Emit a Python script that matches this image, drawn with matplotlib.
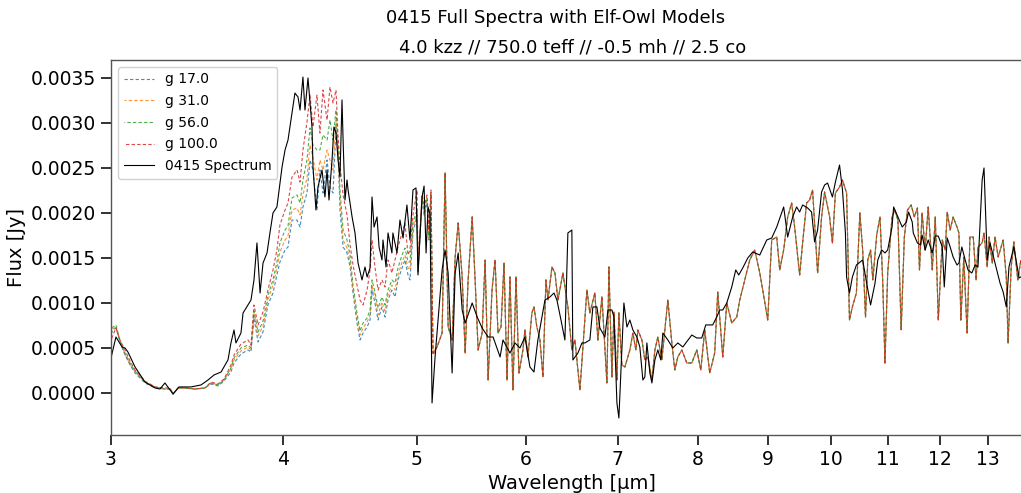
import numpy as np
import matplotlib
matplotlib.use("Agg")
import matplotlib.pyplot as plt
from matplotlib.ticker import FixedLocator, NullLocator, FormatStrFormatter

# ---------------- data ----------------
obs_wave = [3.000, 3.025, 3.056, 3.071, 3.086, 3.123, 3.175, 3.229, 3.256, 3.283,
            3.328, 3.361, 3.429, 3.487, 3.528, 3.564, 3.606, 3.648, 3.666, 3.685,
            3.697, 3.728, 3.741, 3.772, 3.791, 3.810, 3.829, 3.849, 3.868, 3.894,
            3.913, 3.933, 3.959, 3.979, 3.993, 4.013, 4.033, 4.060, 4.080, 4.101,
            4.115, 4.135, 4.149, 4.170, 4.198, 4.205, 4.226, 4.240, 4.269, 4.290,
            4.305, 4.319, 4.341, 4.355, 4.370, 4.385, 4.399, 4.414, 4.422, 4.436,
            4.451, 4.459, 4.489, 4.511, 4.534, 4.564, 4.587, 4.603, 4.626, 4.641,
            4.657, 4.680, 4.696, 4.719, 4.727, 4.751, 4.767, 4.798, 4.806, 4.839,
            4.863, 4.888, 4.920, 4.945, 4.970, 4.995, 5.012, 5.046, 5.063, 5.080,
            5.097, 5.114, 5.131, 5.157, 5.218, 5.244, 5.271, 5.306, 5.333, 5.360,
            5.396, 5.423, 5.487, 5.533, 5.579, 5.635, 5.682, 5.749, 5.777, 5.845,
            5.894, 5.943, 5.993, 6.043, 6.084, 6.124, 6.197, 6.249, 6.291, 6.322,
            6.365, 6.407, 6.439, 6.482, 6.493, 6.548, 6.592, 6.625, 6.680, 6.714,
            6.759, 6.793, 6.850, 6.885, 6.931, 6.954, 6.989, 7.012, 7.047, 7.071,
            7.107, 7.142, 7.178, 7.226, 7.262, 7.299, 7.323, 7.348, 7.385, 7.410,
            7.447, 7.484, 7.521, 7.547, 7.610, 7.674, 7.738, 7.803, 7.921, 7.987,
            8.054, 8.108, 8.203, 8.258, 8.300, 8.342, 8.398, 8.468, 8.525, 8.568,
            8.625, 8.698, 8.771, 8.874, 8.978, 9.053, 9.129, 9.236, 9.298, 9.376,
            9.438, 9.486, 9.533, 9.613, 9.677, 9.726, 9.775, 9.840, 9.890, 9.939,
            10.02, 10.07, 10.14, 10.19, 10.24, 10.26, 10.31, 10.36, 10.43, 10.54,
            10.61, 10.68, 10.76, 10.81, 10.88, 10.94, 10.99, 11.07, 11.10, 11.18,
            11.26, 11.34, 11.38, 11.45, 11.47, 11.55, 11.61, 11.64, 11.70, 11.76,
            11.84, 11.90, 11.96, 12.04, 12.08, 12.14, 12.20, 12.26, 12.34, 12.38,
            12.44, 12.51, 12.57, 12.65, 12.72, 12.78, 12.87, 12.91, 12.98, 13.04,
            13.15, 13.26, 13.33, 13.40, 13.46, 13.57, 13.69, 13.73]

obs_flux = [0.000389, 0.000622, 0.000511, 0.000500, 0.000456, 0.000289, 0.000122, 0.000056, 0.000044, 0.000111,
            -0.000011, 0.000067, 0.000067, 0.000089, 0.000144, 0.000200, 0.000233, 0.000367, 0.000556, 0.000700,
            0.000556, 0.000667, 0.000889, 0.000978, 0.001033, 0.001256, 0.001667, 0.001111, 0.001444, 0.001556,
            0.001778, 0.002000, 0.002067, 0.002333, 0.002511, 0.002700, 0.002811, 0.003111, 0.003333, 0.003289,
            0.003144, 0.003511, 0.003144, 0.003500, 0.002956, 0.002511, 0.002033, 0.002289, 0.002478, 0.002178,
            0.002478, 0.002144, 0.002589, 0.002956, 0.002889, 0.002589, 0.002400, 0.003256, 0.002811, 0.002144,
            0.002367, 0.002256, 0.001956, 0.001778, 0.001444, 0.001256, 0.001400, 0.001289, 0.001389, 0.002178,
            0.001844, 0.001956, 0.001622, 0.001478, 0.001700, 0.001400, 0.001778, 0.001556, 0.001778, 0.001556,
            0.001922, 0.001722, 0.002089, 0.001700, 0.002256, 0.002278, 0.001311, 0.002178, 0.002300, 0.001556,
            0.002067, 0.001978, -0.000111, 0.000400, 0.001367, 0.001589, 0.001333, 0.000222, 0.001333, 0.001556,
            0.000922, 0.000778, 0.001000, 0.000844, 0.000722, 0.000622, 0.000622, 0.000400, 0.000589, 0.000444,
            0.000556, 0.000500, 0.000622, 0.000289, 0.000233, 0.000589, 0.001033, 0.001067, 0.001111, 0.001033,
            0.000811, 0.000589, 0.001778, 0.001811, 0.000367, 0.000444, 0.000556, 0.000556, 0.000589, 0.000956,
            0.000956, 0.000722, 0.000622, 0.000922, 0.000922, 0.000844, -0.000111, -0.000278, 0.000478, 0.001000,
            0.000733, 0.000811, 0.000700, 0.000622, 0.000511, 0.000144, 0.000178, 0.000556, 0.000222, 0.000111,
            0.000367, 0.000478, 0.000367, 0.000667, 0.000589, 0.000500, 0.000556, 0.000511, 0.000644, 0.000611,
            0.000611, 0.000756, 0.000756, 0.000844, 0.000922, 0.000922, 0.001000, 0.001178, 0.001367, 0.001311,
            0.001389, 0.001500, 0.001567, 0.001533, 0.001700, 0.001722, 0.001844, 0.002067, 0.001733, 0.001956,
            0.002067, 0.002011, 0.002089, 0.002056, 0.002011, 0.001678, 0.001811, 0.002233, 0.002311, 0.002333,
            0.002178, 0.002344, 0.002533, 0.002256, 0.001778, 0.001289, 0.001111, 0.001289, 0.001422, 0.001478,
            0.001222, 0.000978, 0.001222, 0.001478, 0.001589, 0.001556, 0.001589, 0.001844, 0.002067, 0.001956,
            0.001844, 0.001900, 0.002011, 0.001900, 0.001778, 0.001667, 0.001644, 0.001756, 0.001589, 0.001700,
            0.001556, 0.001744, 0.001744, 0.001622, 0.001178, 0.001722, 0.001622, 0.001511, 0.001422, 0.001444,
            0.001622, 0.001478, 0.001367, 0.001333, 0.001422, 0.001400, 0.002367, 0.002500, 0.001478, 0.001667,
            0.001444, 0.001222, 0.001122, 0.000956, 0.001400, 0.001622, 0.001278, 0.001289]

# model grid, short-wavelength part (gravity dependent)
model_wave_short = [3.000, 3.010, 3.025, 3.045, 3.071, 3.097, 3.123, 3.175, 3.229, 3.283,
                    3.311, 3.328, 3.356, 3.395, 3.452, 3.510, 3.546, 3.588, 3.624, 3.666,
                    3.685, 3.728, 3.772, 3.791, 3.810, 3.836, 3.868, 3.900, 3.933, 3.959,
                    3.979, 4.013, 4.033, 4.060, 4.094, 4.115, 4.135, 4.163, 4.184, 4.205,
                    4.233, 4.254, 4.276, 4.305, 4.326, 4.348, 4.370, 4.385, 4.399, 4.422,
                    4.451, 4.474, 4.496, 4.526, 4.549, 4.572, 4.603, 4.626, 4.641, 4.664,
                    4.688, 4.719, 4.743, 4.767, 4.798, 4.823, 4.847, 4.880, 4.904, 4.929,
                    4.945, 4.970, 5.004, 5.012, 5.046, 5.063, 5.088, 5.105, 5.122, 5.139]

g17_short = [0.000656, 0.000700, 0.000722, 0.000567, 0.000422, 0.000311, 0.000222, 0.000111, 0.000056, 0.000044,
             0.000044, -0.000011, 0.000056, 0.000056, 0.000044, 0.000056, 0.000100, 0.000078, 0.000133, 0.000233,
             0.000333, 0.000433, 0.000478, 0.000456, 0.000833, 0.000567, 0.000678, 0.000978, 0.001111, 0.001311,
             0.001456, 0.001589, 0.001622, 0.001922, 0.001922, 0.001844, 0.002067, 0.002222, 0.002589, 0.002478,
             0.002033, 0.002478, 0.002222, 0.002589, 0.002289, 0.002222, 0.002956, 0.002700, 0.002033, 0.001622,
             0.001556, 0.001400, 0.001111, 0.000778, 0.000589, 0.000667, 0.000733, 0.000811, 0.001144, 0.001000,
             0.000811, 0.000956, 0.000844, 0.001033, 0.001144, 0.001067, 0.001256, 0.001389, 0.001478, 0.001311,
             0.001256, 0.001778, 0.001978, 0.001333, 0.002144, 0.001978, 0.002111, 0.001700, 0.002178, 0.000444]

g31_short = [0.000667, 0.000711, 0.000733, 0.000578, 0.000433, 0.000322, 0.000233, 0.000122, 0.000067, 0.000044,
             0.000044, -0.000011, 0.000056, 0.000056, 0.000044, 0.000056, 0.000111, 0.000089, 0.000144, 0.000267,
             0.000367, 0.000467, 0.000511, 0.000478, 0.000878, 0.000633, 0.000744, 0.001033, 0.001200, 0.001389,
             0.001567, 0.001700, 0.001744, 0.002033, 0.002056, 0.001978, 0.002200, 0.002389, 0.002756, 0.002611,
             0.002367, 0.002589, 0.002478, 0.002700, 0.002589, 0.002478, 0.003033, 0.002700, 0.002144, 0.001700,
             0.001611, 0.001456, 0.001144, 0.000833, 0.000644, 0.000722, 0.000789, 0.000867, 0.001200, 0.001067,
             0.000867, 0.001011, 0.000911, 0.001089, 0.001200, 0.001144, 0.001311, 0.001456, 0.001533, 0.001389,
             0.001367, 0.001833, 0.002011, 0.001367, 0.002167, 0.002011, 0.002144, 0.001722, 0.002200, 0.000444]

g56_short = [0.000689, 0.000733, 0.000756, 0.000589, 0.000444, 0.000333, 0.000244, 0.000122, 0.000067, 0.000044,
             0.000044, -0.000011, 0.000056, 0.000056, 0.000044, 0.000056, 0.000111, 0.000089, 0.000144, 0.000278,
             0.000389, 0.000500, 0.000533, 0.000500, 0.000911, 0.000678, 0.000800, 0.001089, 0.001256, 0.001456,
             0.001667, 0.001811, 0.001856, 0.002167, 0.002200, 0.002111, 0.002367, 0.002589, 0.002944, 0.002756,
             0.002700, 0.002700, 0.002867, 0.002811, 0.003033, 0.002811, 0.003144, 0.002756, 0.002256, 0.001811,
             0.001700, 0.001533, 0.001200, 0.000889, 0.000689, 0.000778, 0.000833, 0.000922, 0.001256, 0.001122,
             0.000944, 0.001067, 0.000978, 0.001144, 0.001256, 0.001222, 0.001389, 0.001533, 0.001611, 0.001456,
             0.001456, 0.001900, 0.002033, 0.001389, 0.002189, 0.002033, 0.002167, 0.001744, 0.002222, 0.000444]

g100_short = [0.000589, 0.000644, 0.000722, 0.000589, 0.000478, 0.000356, 0.000256, 0.000133, 0.000067, 0.000056,
              0.000056, -0.000011, 0.000056, 0.000056, 0.000044, 0.000056, 0.000122, 0.000100, 0.000156, 0.000311,
              0.000422, 0.000544, 0.000589, 0.000533, 0.000978, 0.000756, 0.000900, 0.001144, 0.001367, 0.001589,
              0.001867, 0.002033, 0.002111, 0.002400, 0.002478, 0.002344, 0.002700, 0.003011, 0.003311, 0.002956,
              0.003311, 0.002889, 0.003367, 0.003033, 0.003400, 0.003222, 0.003367, 0.002844, 0.002533, 0.002200,
              0.001978, 0.001644, 0.001422, 0.001200, 0.001033, 0.000978, 0.001144, 0.001367, 0.001700, 0.001400,
              0.001144, 0.001256, 0.001178, 0.001478, 0.001333, 0.001478, 0.001622, 0.001778, 0.001889, 0.001533,
              0.001589, 0.001978, 0.002256, 0.001422, 0.002200, 0.002089, 0.002200, 0.001811, 0.002256, 0.000422]

# model grid, long-wavelength part (models nearly identical here)
model_wave_long = [5.174, 5.218, 5.244, 5.271, 5.306, 5.333, 5.360, 5.396, 5.423, 5.450,
                   5.487, 5.514, 5.542, 5.579, 5.607, 5.635, 5.672, 5.701, 5.729, 5.758,
                   5.787, 5.816, 5.845, 5.874, 5.904, 5.933, 5.973, 5.993, 6.023, 6.063,
                   6.084, 6.114, 6.145, 6.176, 6.207, 6.228, 6.270, 6.301, 6.333, 6.386,
                   6.439, 6.482, 6.515, 6.570, 6.603, 6.647, 6.680, 6.736, 6.770, 6.816,
                   6.873, 6.896, 6.931, 6.954, 6.989, 7.012, 7.047, 7.083, 7.142, 7.178,
                   7.214, 7.238, 7.287, 7.323, 7.360, 7.410, 7.447, 7.484, 7.534, 7.572,
                   7.610, 7.661, 7.699, 7.738, 7.790, 7.855, 7.921, 7.987, 8.041, 8.094,
                   8.162, 8.230, 8.272, 8.342, 8.398, 8.468, 8.539, 8.582, 8.654, 8.727,
                   8.800, 8.874, 8.918, 8.993, 9.053, 9.129, 9.175, 9.236, 9.298, 9.360,
                   9.407, 9.486, 9.533, 9.597, 9.645, 9.693, 9.775, 9.840, 9.890, 9.973,
                   10.02, 10.07, 10.14, 10.19, 10.26, 10.31, 10.36, 10.43, 10.49, 10.54,
                   10.59, 10.63, 10.68, 10.72, 10.79, 10.85, 10.90, 10.94, 10.99, 11.07,
                   11.12, 11.18, 11.24, 11.30, 11.36, 11.43, 11.49, 11.55, 11.59, 11.64,
                   11.70, 11.76, 11.84, 11.90, 11.96, 12.04, 12.10, 12.14, 12.20, 12.26,
                   12.34, 12.38, 12.42, 12.48, 12.55, 12.61, 12.68, 12.74, 12.78, 12.87,
                   12.91, 12.98, 13.02, 13.09, 13.15, 13.22, 13.33, 13.40, 13.44, 13.51,
                   13.57, 13.66, 13.73]

model_flux_long = [0.000511, 0.000667, 0.002444, 0.000733, 0.000589, 0.001511, 0.001889, 0.001289, 0.000444, 0.001256,
                   0.001956, 0.001256, 0.000478, 0.000667, 0.001478, 0.000144, 0.001144, 0.001478, 0.000667, 0.000733,
                   0.001444, 0.000144, 0.001289, 0.000033, 0.001289, 0.000222, 0.000478, 0.000700, 0.000400, 0.000889,
                   0.000956, 0.000733, 0.000589, 0.000178, 0.001256, 0.001033, 0.001400, 0.001333, 0.001033, 0.001333,
                   0.000956, 0.000478, 0.000589, 0.000033, 0.000511, 0.001144, 0.000889, 0.001111, 0.000589, 0.001067,
                   0.000111, 0.001400, 0.000178, 0.000900, 0.000144, 0.000889, 0.000311, 0.000289, 0.000478, 0.000667,
                   0.000478, 0.000700, 0.000589, 0.000367, 0.000400, 0.000144, 0.000478, 0.000622, 0.000367, 0.000700,
                   0.001033, 0.000556, 0.000256, 0.000400, 0.000478, 0.000333, 0.000333, 0.000478, 0.000256, 0.000700,
                   0.000222, 0.000444, 0.001122, 0.000400, 0.001000, 0.000778, 0.000844, 0.001033, 0.001256, 0.001478,
                   0.001589, 0.001333, 0.001144, 0.000811, 0.001700, 0.001733, 0.001367, 0.001589, 0.001956, 0.002111,
                   0.001844, 0.001311, 0.001667, 0.002111, 0.002144, 0.002256, 0.001333, 0.001956, 0.002233, 0.001956,
                   0.001667, 0.002222, 0.002289, 0.002367, 0.002222, 0.000811, 0.000956, 0.001111, 0.002000, 0.001589,
                   0.000844, 0.001478, 0.001589, 0.001256, 0.001756, 0.001956, 0.001222, 0.000333, 0.001333, 0.001956,
                   0.002033, 0.001922, 0.000700, 0.001733, 0.002033, 0.002089, 0.001956, 0.002056, 0.001367, 0.002000,
                   0.001589, 0.002067, 0.001367, 0.001956, 0.000811, 0.001700, 0.001589, 0.002011, 0.001811, 0.001956,
                   0.001844, 0.001778, 0.000811, 0.001511, 0.000667, 0.001733, 0.001733, 0.001256, 0.001622, 0.001667,
                   0.001778, 0.001400, 0.001733, 0.001444, 0.001733, 0.001511, 0.001700, 0.001289, 0.000556, 0.001400,
                   0.001678, 0.001256, 0.001478]

gravity_labels = ["g 17.0", "g 31.0", "g 56.0", "g 100.0"]
model_colors = ["#1f77b4", "#ff7f0e", "#2ca02c", "#d62728"]
xtick_values = [3, 4, 5, 6, 7, 8, 9, 10, 11, 12, 13]

# ---------------- figure ----------------
fig = plt.figure(figsize=(10.21, 4.93), dpi=100)
ax = fig.add_axes([111 / 1021, 1 - 435 / 493, (1032.5 - 111) / 1021, (435 - 60) / 493])

model_wave = model_wave_short + model_wave_long
model_series = [g17_short, g31_short, g56_short, g100_short]
for i, (short, lab, col) in enumerate(zip(model_series, gravity_labels, model_colors)):
    flux = short + model_flux_long
    ax.plot(model_wave, flux, color=col, lw=0.8, alpha=0.85,
            linestyle=(i * 1.2, (3, 2)), label=lab)

ax.plot(obs_wave, obs_flux, color="black", lw=0.8, label="0415 Spectrum")

ax.set_xscale("log")
ax.set_xlim(3, 14)
ax.set_ylim(-0.000467, 0.0037)
ax.xaxis.set_major_locator(FixedLocator(xtick_values))
ax.xaxis.set_minor_locator(NullLocator())
ax.set_xticklabels([str(v) for v in xtick_values])
ax.yaxis.set_major_formatter(FormatStrFormatter("%.4f"))
ax.set_yticks([0.0, 0.0005, 0.0010, 0.0015, 0.0020, 0.0025, 0.0030, 0.0035])

ax.tick_params(axis="both", which="major", labelsize=13.5, length=7, width=1.3,
               color="#222222")
for side in ["left", "bottom", "top", "right"]:
    ax.spines[side].set_linewidth(1.0)
    ax.spines[side].set_color("#555555")

ax.set_xlabel("Wavelength [µm]", fontsize=14)
ax.set_ylabel("Flux [Jy]", fontsize=14)

fig.text(556 / 1021, 1 - 18 / 493, "0415 Full Spectra with Elf-Owl Models",
         ha="center", va="center", fontsize=13)
fig.text(573 / 1021, 1 - 47 / 493, "4.0 kzz // 750.0 teff // -0.5 mh // 2.5 co",
         ha="center", va="center", fontsize=13)

leg = ax.legend(loc="upper left", fontsize=10, labelspacing=0.55,
                handlelength=2.2, framealpha=0.9)

fig.savefig("out.png", dpi=100)
